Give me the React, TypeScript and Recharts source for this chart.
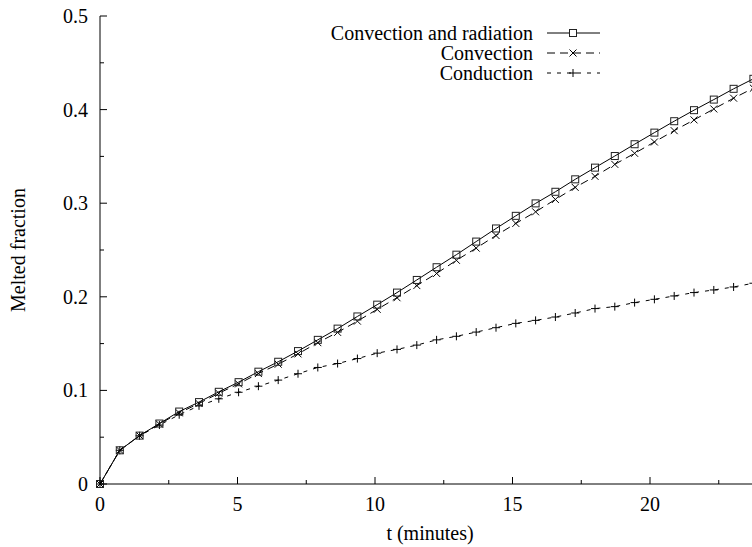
import React from "react";
import { LineChart, Line, XAxis, YAxis } from "recharts";

const tValues = [0, 0.72, 1.44, 2.16, 2.88, 3.6, 4.32, 5.04, 5.76, 6.48, 7.2, 7.92, 8.64, 9.36, 10.08, 10.8, 11.52, 12.24, 12.96, 13.68, 14.4, 15.12, 15.84, 16.56, 17.28, 18, 18.72, 19.44, 20.16, 20.88, 21.6, 22.32, 23.04, 23.76];

const convRad = [0, 0.036, 0.0517, 0.0646, 0.0774, 0.0875, 0.0985, 0.1088, 0.12, 0.1306, 0.142, 0.154, 0.166, 0.179, 0.1916, 0.2045, 0.218, 0.2316, 0.245, 0.259, 0.273, 0.2865, 0.2998, 0.3122, 0.3255, 0.338, 0.3504, 0.363, 0.3754, 0.3876, 0.3994, 0.4107, 0.4222, 0.4329];

const convection = [0, 0.036, 0.0517, 0.064, 0.076, 0.086, 0.097, 0.107, 0.118, 0.128, 0.139, 0.151, 0.162, 0.174, 0.1866, 0.199, 0.212, 0.225, 0.239, 0.252, 0.2655, 0.2784, 0.2908, 0.304, 0.3169, 0.3287, 0.3415, 0.3533, 0.3654, 0.3775, 0.389, 0.4007, 0.4122, 0.4229];

const conduction = [0, 0.036, 0.0515, 0.063, 0.074, 0.0835, 0.091, 0.098, 0.1045, 0.111, 0.1178, 0.1245, 0.1287, 0.134, 0.1398, 0.1438, 0.1484, 0.154, 0.1578, 0.1623, 0.167, 0.1716, 0.1748, 0.1784, 0.1827, 0.1874, 0.1895, 0.1938, 0.1973, 0.2009, 0.2045, 0.2073, 0.2105, 0.2145];

const xTicks = [0, 2.5, 5, 7.5, 10, 12.5, 15, 17.5, 20, 22.5];
const yTicks = [0, 0.05, 0.1, 0.15, 0.2, 0.25, 0.3, 0.35, 0.4, 0.45, 0.5];

const seriesNames = ["Convection and radiation", "Convection", "Conduction"];
const xLabel = "t (minutes)";
const yLabel = "Melted fraction";

const data = tValues.map((t, i) => ({
  t,
  cr: convRad[i],
  cv: convection[i],
  cd: conduction[i],
}));

const FONT = "'Liberation Serif', 'Times New Roman', 'DejaVu Serif', serif";
const FS = 20;

const isMajorX = (v: number) => Math.abs(v / 5 - Math.round(v / 5)) < 1e-6;
const isMajorY = (v: number) => Math.abs(v / 0.1 - Math.round(v / 0.1)) < 1e-6;

const XTickBottom = (props: any) => {
  const { x, y, payload } = props;
  const v = payload.value;
  const major = isMajorX(v);
  return (
    <g>
      <line x1={x} x2={x} y1={y} y2={y - (major ? 7 : 4)} stroke="#000" strokeWidth={1} />
      {major && (
        <text x={x} y={y + 27} textAnchor="middle" fontFamily={FONT} fontSize={FS} fill="#000">
          {String(v)}
        </text>
      )}
    </g>
  );
};

const XTickTop = (props: any) => {
  const { x, y, payload } = props;
  const major = isMajorX(payload.value);
  return <line x1={x} x2={x} y1={y} y2={y + (major ? 7 : 4)} stroke="#000" strokeWidth={1} />;
};

const YTickLeft = (props: any) => {
  const { x, y, payload } = props;
  const v = payload.value;
  const major = isMajorY(v);
  const label = Math.round(v * 10) / 10;
  return (
    <g>
      <line x1={x} x2={x + (major ? 7 : 4)} y1={y} y2={y} stroke="#000" strokeWidth={1} />
      {major && (
        <text x={x - 12} y={y + 7} textAnchor="end" fontFamily={FONT} fontSize={FS} fill="#000">
          {String(label)}
        </text>
      )}
    </g>
  );
};

const squareDot = (p: any) => (
  <rect key={`sq${p.index}`} x={p.cx - 3.5} y={p.cy - 3.5} width={7} height={7} fill="none" stroke="#222" strokeWidth={1} />
);
const crossDot = (p: any) => (
  <path key={`cx${p.index}`} d={`M${p.cx - 3.5},${p.cy - 3.5}L${p.cx + 3.5},${p.cy + 3.5}M${p.cx - 3.5},${p.cy + 3.5}L${p.cx + 3.5},${p.cy - 3.5}`} stroke="#000" strokeWidth={1} fill="none" />
);
const plusDot = (p: any) => (
  <path key={`pl${p.index}`} d={`M${p.cx - 4},${p.cy}L${p.cx + 4},${p.cy}M${p.cx},${p.cy - 4}L${p.cx},${p.cy + 4}`} stroke="#000" strokeWidth={1} fill="none" />
);

const dashCv = "8 5";
const dashCd = "4 6";

export default function App() {
  return (
    <div style={{ position: "absolute", left: 0, top: 0, width: 752, height: 547, overflow: "hidden", background: "#fff" }}>
      <LineChart width={770} height={547} data={data} margin={{ top: 16, right: 10, bottom: 0, left: 0 }}>
        <XAxis
          xAxisId="bottom"
          dataKey="t"
          type="number"
          domain={[0, 24]}
          ticks={xTicks}
          interval={0}
          height={63}
          tickSize={0}
          tickMargin={0}
          tickLine={false}
          axisLine={{ stroke: "#000", strokeWidth: 1 }}
          tick={<XTickBottom />}
          orientation="bottom"
        />
        <XAxis
          xAxisId="top"
          dataKey="t"
          type="number"
          domain={[0, 24]}
          ticks={xTicks}
          interval={0}
          height={0}
          tickSize={0}
          tickMargin={0}
          tickLine={false}
          axisLine={{ stroke: "#000", strokeWidth: 1 }}
          tick={<XTickTop />}
          orientation="top"
        />
        <YAxis
          type="number"
          domain={[0, 0.5]}
          ticks={yTicks}
          interval={0}
          width={100}
          tickSize={0}
          tickMargin={0}
          tickLine={false}
          axisLine={{ stroke: "#000", strokeWidth: 1 }}
          tick={<YTickLeft />}
        />
        <Line xAxisId="bottom" type="linear" dataKey="cd" name={seriesNames[2]} stroke="#000" strokeWidth={1} strokeDasharray={dashCd} dot={plusDot} activeDot={false} isAnimationActive={false} />
        <Line xAxisId="bottom" type="linear" dataKey="cv" name={seriesNames[1]} stroke="#000" strokeWidth={1} strokeDasharray={dashCv} dot={crossDot} activeDot={false} isAnimationActive={false} />
        <Line xAxisId="bottom" type="linear" dataKey="cr" name={seriesNames[0]} stroke="#000" strokeWidth={1} dot={squareDot} activeDot={false} isAnimationActive={false} />
      </LineChart>
      <svg width={752} height={547} style={{ position: "absolute", left: 0, top: 0, pointerEvents: "none" }}>
        <text x={430} y={540} textAnchor="middle" fontFamily={FONT} fontSize={FS} fill="#000">{xLabel}</text>
        <text x={0} y={0} transform="translate(25,250) rotate(-90)" textAnchor="middle" fontFamily={FONT} fontSize={FS} fill="#000">{yLabel}</text>
        <g fontFamily={FONT} fontSize={FS} fill="#000">
          <text x={533} y={40} textAnchor="end">{seriesNames[0]}</text>
          <text x={533} y={60} textAnchor="end">{seriesNames[1]}</text>
          <text x={533} y={80} textAnchor="end">{seriesNames[2]}</text>
        </g>
        <line x1={547} x2={600} y1={33} y2={33} stroke="#000" strokeWidth={1} />
        <rect x={569.5} y={29.5} width={7} height={7} fill="#fff" stroke="#222" strokeWidth={1} />
        <line x1={547} x2={600} y1={53} y2={53} stroke="#000" strokeWidth={1} strokeDasharray={dashCv} />
        <path d="M569.5,49.5L576.5,56.5M569.5,56.5L576.5,49.5" stroke="#000" strokeWidth={1} />
        <line x1={547} x2={600} y1={73} y2={73} stroke="#000" strokeWidth={1} strokeDasharray={dashCd} />
        <path d="M569,73L577,73M573,69L573,77" stroke="#000" strokeWidth={1} />
      </svg>
    </div>
  );
}
